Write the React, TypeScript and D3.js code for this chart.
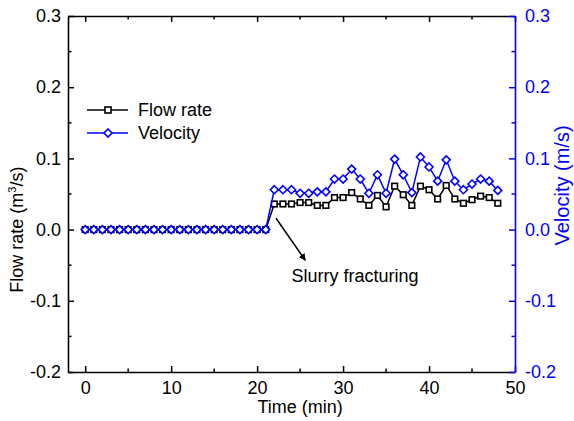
import { useEffect, useRef } from "react";
import * as d3 from "d3";

const time = [
  0, 1, 2, 3, 4, 5, 6, 7, 8, 9, 10, 11, 12, 13, 14, 15, 16, 17, 18, 19, 20, 21,
  22, 23, 24, 25, 26, 27, 28, 29, 30, 31, 32, 33, 34, 35, 36, 37, 38, 39, 40,
  41, 42, 43, 44, 45, 46, 47, 48,
];

const flowRate = [
  0, 0, 0, 0, 0, 0, 0, 0, 0, 0, 0, 0, 0, 0, 0, 0, 0, 0, 0, 0, 0, 0,
  0.036, 0.036, 0.036, 0.038, 0.038, 0.034, 0.034, 0.045, 0.045, 0.052, 0.043,
  0.034, 0.048, 0.032, 0.061, 0.049, 0.034, 0.061, 0.056, 0.043, 0.062, 0.043,
  0.037, 0.042, 0.047, 0.045, 0.037,
];

const velocity = [
  0, 0, 0, 0, 0, 0, 0, 0, 0, 0, 0, 0, 0, 0, 0, 0, 0, 0, 0, 0, 0, 0,
  0.056, 0.056, 0.056, 0.051, 0.051, 0.053, 0.053, 0.071, 0.071, 0.085, 0.071,
  0.051, 0.077, 0.051, 0.099, 0.077, 0.052, 0.102, 0.088, 0.068, 0.098, 0.068,
  0.056, 0.064, 0.071, 0.068, 0.055,
];

const xTicks = [0, 10, 20, 30, 40, 50];
const xMinor = [5, 15, 25, 35, 45];
const yTicks = [-0.2, -0.1, 0.0, 0.1, 0.2, 0.3];
const yMinor = [-0.15, -0.05, 0.05, 0.15, 0.25];

const FONT = "'Liberation Sans', Arial, sans-serif";
const FS = "18px";
const BLUE = "#0000ff";

const App = () => {
  const ref = useRef<SVGSVGElement | null>(null);

  useEffect(() => {
    if (!ref.current) return;
    const svg = d3.select(ref.current);
    svg.selectAll("*").remove();

    const left = 68;
    const right = 515;
    const top = 16;
    const bottom = 372;

    const x = d3.scaleLinear().domain([-2, 50]).range([left, right]);
    const y = d3.scaleLinear().domain([-0.2, 0.3]).range([bottom, top]);

    // plain hyphen for negatives, like the original
    const fmt = (d: number) => d.toFixed(1);

    const minor = (
      g: d3.Selection<SVGGElement, unknown, null, undefined>,
      vals: number[],
      horiz: boolean,
      len: number,
      color: string
    ) => {
      g.append("g")
        .selectAll("line")
        .data(vals)
        .enter()
        .append("line")
        .attr("x1", (d) => (horiz ? x(d) : 0))
        .attr("x2", (d) => (horiz ? x(d) : len))
        .attr("y1", (d) => (horiz ? 0 : y(d)))
        .attr("y2", (d) => (horiz ? len : y(d)))
        .attr("stroke", color)
        .attr("stroke-width", 1.5);
    };

    // axes
    const gb = svg
      .append("g")
      .attr("transform", `translate(0,${bottom})`)
      .call(
        d3
          .axisBottom(x)
          .tickValues(xTicks)
          .tickSizeInner(-6)
          .tickSizeOuter(0)
          .tickPadding(9)
          .tickFormat(d3.format("d"))
      );
    minor(gb, xMinor, true, -3.5, "#000");

    const gt = svg
      .append("g")
      .attr("transform", `translate(0,${top})`)
      .call(
        d3
          .axisTop(x)
          .tickValues(xTicks)
          .tickSizeInner(-6)
          .tickSizeOuter(0)
          .tickFormat(() => "")
      );
    minor(gt, xMinor, true, 3.5, "#000");

    const gl = svg
      .append("g")
      .attr("transform", `translate(${left},0)`)
      .call(
        d3
          .axisLeft(y)
          .tickValues(yTicks)
          .tickSizeInner(-6)
          .tickSizeOuter(0)
          .tickPadding(7)
          .tickFormat((d) => fmt(d as number))
      );
    minor(gl, yMinor, false, 3.5, "#000");

    const gr = svg
      .append("g")
      .attr("transform", `translate(${right},0)`)
      .call(
        d3
          .axisRight(y)
          .tickValues(yTicks)
          .tickSizeInner(-6)
          .tickSizeOuter(0)
          .tickPadding(10)
          .tickFormat((d) => fmt(d as number))
      );
    minor(gr, yMinor, false, -3.5, BLUE);

    [gb, gt, gl].forEach((g) => {
      g.select(".domain").attr("stroke", "#000").attr("stroke-width", 1.6);
      g.selectAll(".tick line").attr("stroke", "#000").attr("stroke-width", 1.5);
      g.selectAll("text")
        .attr("fill", "#000")
        .style("font-family", FONT)
        .style("font-size", FS);
    });
    gr.select(".domain").attr("stroke", BLUE).attr("stroke-width", 1.6);
    gr.selectAll(".tick line").attr("stroke", BLUE).attr("stroke-width", 1.5);
    gr.selectAll("text")
      .attr("fill", BLUE)
      .style("font-family", FONT)
      .style("font-size", FS);

    // axis titles
    svg
      .append("text")
      .attr("x", x(25))
      .attr("y", 413)
      .attr("text-anchor", "middle")
      .style("font-family", FONT)
      .style("font-size", FS)
      .text("Time (min)");

    const fl = svg
      .append("text")
      .attr("transform", `translate(23,${y(0.0)}) rotate(-90)`)
      .attr("text-anchor", "middle")
      .style("font-family", FONT)
      .style("font-size", FS);
    fl.append("tspan").text("Flow rate (m");
    fl.append("tspan")
      .attr("dy", -7)
      .style("font-size", "11px")
      .text("3");
    fl.append("tspan").attr("dy", 7).text("/s)");

    svg
      .append("text")
      .attr("transform", `translate(569,${y(0.062)}) rotate(-90)`)
      .attr("text-anchor", "middle")
      .attr("fill", BLUE)
      .style("font-family", FONT)
      .style("font-size", "20px")
      .text("Velocity (m/s)");

    // series
    const flowPts = time.map((t, i) => [t, flowRate[i]] as [number, number]);
    const velPts = time.map((t, i) => [t, velocity[i]] as [number, number]);
    const line = d3
      .line<[number, number]>()
      .x((d) => x(d[0]))
      .y((d) => y(d[1]));

    svg
      .append("path")
      .attr("d", line(flowPts))
      .attr("fill", "none")
      .attr("stroke", "#000")
      .attr("stroke-width", 1.5);
    svg
      .append("g")
      .selectAll("rect")
      .data(flowPts)
      .enter()
      .append("rect")
      .attr("x", (d) => x(d[0]) - 2.8)
      .attr("y", (d) => y(d[1]) - 2.8)
      .attr("width", 5.6)
      .attr("height", 5.6)
      .attr("fill", "#fff")
      .attr("stroke", "#000")
      .attr("stroke-width", 1.6);

    svg
      .append("path")
      .attr("d", line(velPts))
      .attr("fill", "none")
      .attr("stroke", BLUE)
      .attr("stroke-width", 1.5);
    const diamond = (cx: number, cy: number, r: number) =>
      `M${cx},${cy - r}L${cx + r},${cy}L${cx},${cy + r}L${cx - r},${cy}Z`;
    svg
      .append("g")
      .selectAll("path")
      .data(velPts)
      .enter()
      .append("path")
      .attr("d", (d) => diamond(x(d[0]), y(d[1]), 4))
      .attr("fill", "#fff")
      .attr("stroke", BLUE)
      .attr("stroke-width", 1.6);

    // annotation
    svg
      .append("defs")
      .append("marker")
      .attr("id", "arrow")
      .attr("viewBox", "0 0 10 10")
      .attr("refX", 9)
      .attr("refY", 5)
      .attr("markerWidth", 7)
      .attr("markerHeight", 7)
      .attr("markerUnits", "userSpaceOnUse")
      .attr("orient", "auto")
      .append("path")
      .attr("d", "M0,0L10,5L0,10Z")
      .attr("fill", "#000");
    svg
      .append("line")
      .attr("x1", x(22.2))
      .attr("y1", y(0.016))
      .attr("x2", x(25.6))
      .attr("y2", y(-0.043))
      .attr("stroke", "#000")
      .attr("stroke-width", 1.5)
      .attr("marker-end", "url(#arrow)");
    svg
      .append("text")
      .attr("x", x(24))
      .attr("y", y(-0.073))
      .style("font-family", FONT)
      .style("font-size", FS)
      .text("Slurry fracturing");

    // legend
    const legend = [
      { name: "Flow rate", color: "#000", shape: "square", ly: 110 },
      { name: "Velocity", color: BLUE, shape: "diamond", ly: 133 },
    ];
    legend.forEach((l) => {
      svg
        .append("line")
        .attr("x1", 87)
        .attr("x2", 128)
        .attr("y1", l.ly)
        .attr("y2", l.ly)
        .attr("stroke", l.color)
        .attr("stroke-width", 1.5);
      if (l.shape === "square") {
        svg
          .append("rect")
          .attr("x", 105)
          .attr("y", l.ly - 3)
          .attr("width", 6)
          .attr("height", 6)
          .attr("fill", "#fff")
          .attr("stroke", l.color)
          .attr("stroke-width", 1.6);
      } else {
        svg
          .append("path")
          .attr("d", diamond(108, l.ly, 4))
          .attr("fill", "#fff")
          .attr("stroke", l.color)
          .attr("stroke-width", 1.6);
      }
      svg
        .append("text")
        .attr("x", 138)
        .attr("y", l.ly + 6)
        .style("font-family", FONT)
        .style("font-size", FS)
        .text(l.name);
    });
  }, []);

  return (
    <svg
      ref={ref}
      width={574}
      height={421}
      style={{ position: "absolute", left: 0, top: 0, background: "#fff" }}
    />
  );
};

export default App;
